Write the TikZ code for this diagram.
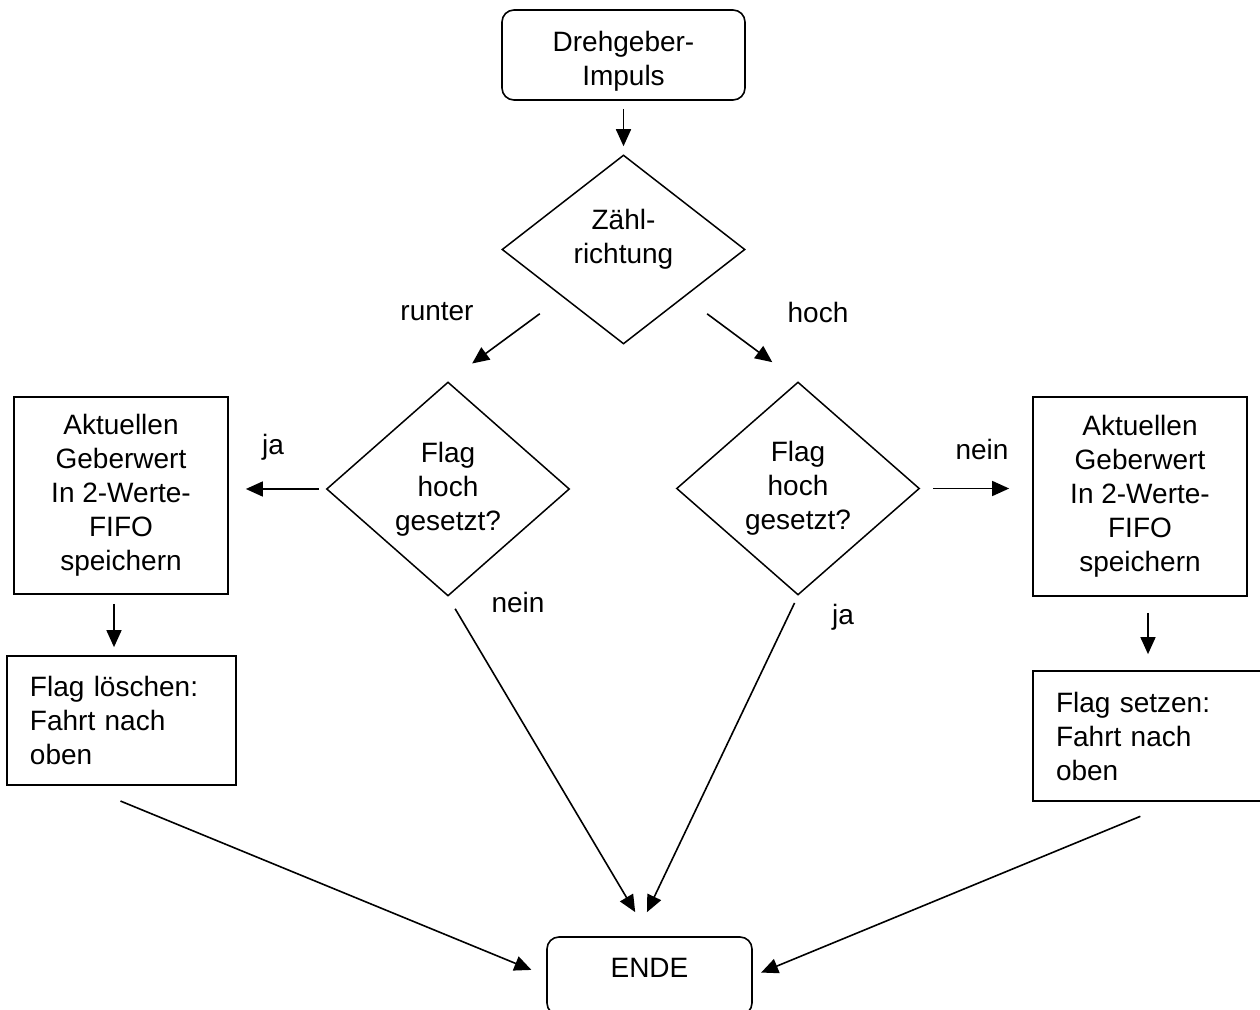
\documentclass[tikz,border=0pt]{standalone}
\usepackage{fontspec}
\setmainfont{Liberation Sans}
\usetikzlibrary{arrows.meta,calc,shapes.geometric}

\begin{document}
\begin{tikzpicture}[
    x=0.5pt, y=-0.5pt,
    font=\fontsize{14}{17}\selectfont,
    >={Triangle[length=8.5pt,width=7.5pt]},
    terminal/.style={
        draw,
        rounded corners=6pt,
        line width=0.8pt,
        align=center,
        inner sep=0pt
    },
    decision/.style={
        draw,
        diamond,
        line width=0.75pt,
        align=center,
        inner sep=0pt,
        minimum width=121.5pt
    },
    process/.style={
        draw,
        line width=0.85pt,
        align=center,
        inner sep=0pt,
        minimum width=107pt
    },
    memo/.style={
        draw,
        line width=0.85pt,
        align=left,
        inner xsep=11.5pt,
        inner ysep=0pt,
        text width=91.5pt,
        minimum height=64.5pt
    },
    flow/.style={->, line width=0.8pt},
    branch/.style={inner sep=0pt}
]

\useasboundingbox (0,0) rectangle (1260,1010);

% A. start and direction
\node[terminal, minimum width=121.5pt, minimum height=45pt, text height=30.5pt, text depth=0pt] (start) at (623.5,55) {Drehgeber-\\Impuls};
\node[decision, minimum height=94.5pt, text depth=13.5pt] (dir) at (623.5,249.5) {Zähl-\\richtung};

\draw[flow, shorten <=4pt, shorten >=4pt] (start) -- (dir);

% B. flag checks
\node[decision, minimum height=107pt] (flagdown) at (448,489) {Flag\\hoch\\gesetzt?};
\node[decision, minimum height=106.5pt] (flagup) at (798,488.5) {Flag\\hoch\\gesetzt?};

\node[branch] (lblrunter) at (437,312) {runter};
\node[branch] (lblhoch) at (818,312) {hoch};

\draw[flow, shorten <=14pt, shorten >=15pt] (dir.south west) -- (flagdown.north);
\draw[flow, shorten <=14pt, shorten >=16pt] (dir.south east) -- (flagup.north);

% C. store value and set/clear flag
\node[process, minimum height=98.5pt] (fifodown) at (121,495.5) {Aktuellen\\Geberwert\\In 2-Werte-\\FIFO\\speichern};
\node[process, minimum height=99.5pt] (fifoup) at (1140,496.5) {Aktuellen\\Geberwert\\In 2-Werte-\\FIFO\\speichern};
\node[memo] (clearflag) at (121.5,720.5) {Flag löschen:\\Fahrt nach\\oben};
\node[memo, minimum height=65pt] (setflag) at (1147.5,736) {Flag setzen:\\Fahrt nach\\oben};

\node[branch] (lbljadown) at (273,447) {ja};
\node[branch] (lblneinup) at (982,449) {nein};

\draw[flow, shorten <=3.5pt, shorten >=8.5pt] (flagdown.west) -- (flagdown.west -| fifodown.east);
\draw[flow, shorten <=6.5pt, shorten >=11.5pt] (flagup.east) -- (flagup.east -| fifoup.west);
\draw[flow, shorten <=4.5pt, shorten >=4pt] ([xshift=-3.5pt]fifodown.south) -- ([xshift=-3.5pt]fifodown.south |- clearflag.north);
\draw[flow, shorten <=8pt, shorten >=8pt] ([xshift=4pt]fifoup.south) -- ([xshift=4pt]fifoup.south |- setflag.north);

% D. end
\node[terminal, minimum width=102.5pt, minimum height=39pt, text depth=8pt] (ende) at (649.5,976) {ENDE};

\node[branch] (lblneindown) at (518,602) {nein};
\node[branch] (lbljaup) at (843,617) {ja};

\draw[flow, shorten <=7pt, shorten >=14pt] (flagdown.south) -- (ende.north);
\draw[flow, shorten <=4pt, shorten >=13.3pt] (flagup.south) -- ([xshift=-7pt]ende.north);
\draw[flow, shorten <=20pt, shorten >=8pt] ([xshift=-19pt]clearflag.south) -- (ende.west);
\draw[flow, shorten <=19pt, shorten >=4.5pt] ([xshift=14pt]setflag.south) -- (ende.east);

\end{tikzpicture}
\end{document}
